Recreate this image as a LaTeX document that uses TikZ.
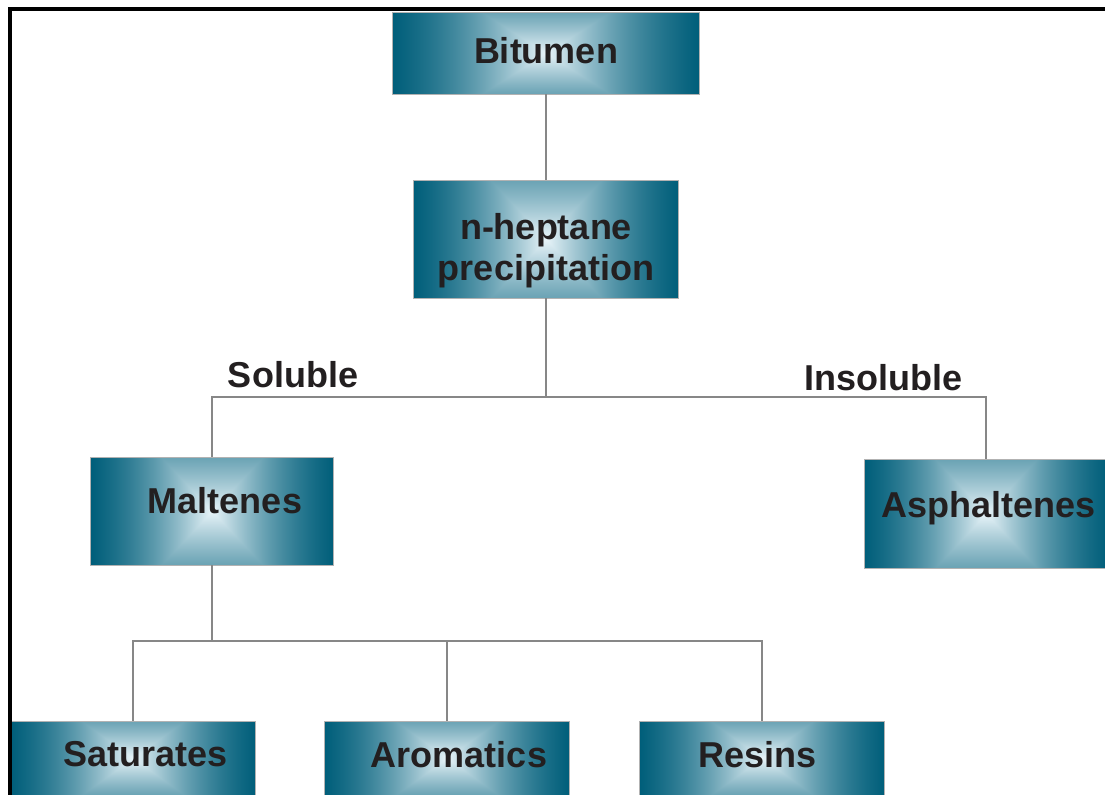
\documentclass[tikz,border=0pt]{standalone}
\usepackage{fontspec}
\setmainfont{Liberation Sans}
\usepackage{tikz}
\usetikzlibrary{positioning}

\definecolor{inkgray}{RGB}{35,31,32}
\definecolor{linegray}{RGB}{135,135,135}
% square fountain: pale centre, teal edges
\pgfdeclarefunctionalshading{boxshade}{\pgfpoint{-50bp}{-50bp}}{\pgfpoint{50bp}{50bp}}{}{
  abs 0.42 mul exch abs 2 copy lt {exch} if pop
  25 div dup 1 gt {pop 1} if
  dup -0.5 mul 1.5 add mul
  dup dup
  -0.91 mul 0.91 add
  3 1 roll
  -0.588 mul 0.957 add
  exch
  -0.498 mul 0.976 add
}

\begin{document}
\begin{tikzpicture}[
x=0.75pt, y=-0.75pt,
block/.style={
    draw=gray!60,
    line width=0.6pt,
    shade,
    shading=boxshade,
    inner sep=0pt,
    align=center,
    text=inkgray,
    font=\fontsize{27}{30.75}\selectfont\bfseries
},
tag/.style={
    text=inkgray,
    font=\fontsize{27}{30.75}\selectfont\bfseries
},
link/.style={
    draw=linegray,
    line width=0.8pt
}
]

\useasboundingbox (0,0) rectangle (1105,794);

\node[block, minimum width=230.25pt, minimum height=61.5pt, text depth=4.5pt] (bitumen) at (546,53)
{Bitumen};

\node[block, minimum width=198.75pt, minimum height=88.5pt] (heptane) at (546,239)
{\rule{0pt}{37.5pt}n-heptane\\precipitation};

\node[block, minimum width=182.25pt, minimum height=81pt, text depth=16.5pt] (maltenes) at (212,511)
{\hspace*{19.5pt}Maltenes};

\node[block, minimum width=182.25pt, minimum height=81.75pt, text depth=13.6pt] (asphaltenes) at (986,513.5)
{\hspace*{3.75pt}Asphaltenes};

\node[block, minimum width=183.75pt, minimum height=55.5pt, text depth=6pt] (saturates) at (133,758)
{\hspace*{18.75pt}Saturates};

\node[block, minimum width=183.75pt, minimum height=55.5pt, text depth=6pt] (aromatics) at (447,758)
{\hspace*{18pt}Aromatics};

\node[block, minimum width=183.75pt, minimum height=55.5pt, text depth=6pt] (resins) at (762,758)
{\hspace*{-6.75pt}Resins};

\node[tag] (soluble) at (293,375) {Soluble};
\node[tag] (insoluble) at (883,378) {Insoluble};

\coordinate (split1) at (546,397);
\coordinate (split2) at (212,641);

\draw[link] (bitumen) -- (heptane);
\draw[link] (heptane) -- (split1);
\draw[link] (split1) -| (maltenes);
\draw[link] (split1) -| (asphaltenes);
\draw[link] (maltenes) -- (split2);
\draw[link] (split2) -| (saturates);
\draw[link] (split2) -| (aromatics);
\draw[link] (split2) -| (resins);

% frame
\draw[line width=3pt] (10,800) |- (1110,9);

\end{tikzpicture}
\end{document}
